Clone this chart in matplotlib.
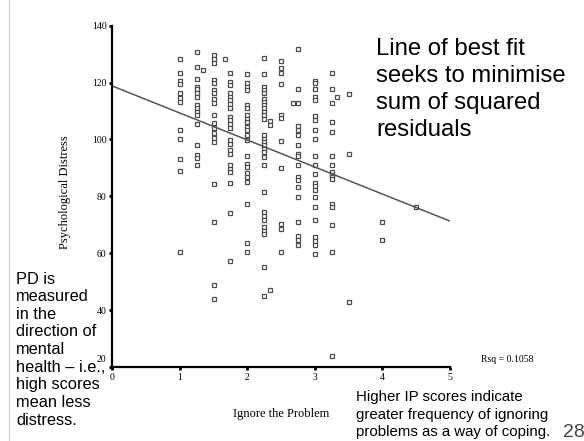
#!/usr/bin/env python3

import matplotlib
matplotlib.use("Agg")
import matplotlib.pyplot as plt
import matplotlib.transforms as mtransforms
from matplotlib import rcParams
import numpy as np

rcParams['font.family'] = 'serif'
rcParams['font.serif'] = ['Liberation Serif']

# Ignore the Problem (IP) score levels, and the Psychological Distress values
ip_levels = [1.0, 1.25, 1.34, 1.5, 1.67, 1.75, 2.0, 2.25, 2.33, 2.5, 2.67, 2.75, 3.0, 3.25, 3.33, 3.5, 4.0, 4.5]
pd_at_1_00 = [128.3, 123.2, 120.5, 119.6, 116.3, 114.7, 113.2, 103.5, 100.2, 93.0, 88.8, 60.3]
pd_at_1_25 = [130.6, 125.4, 121.1, 118.5, 117.6, 116.2, 115.0, 112.0, 110.9, 109.7, 108.5, 105.5,
              97.9, 94.4, 93.4, 90.9]
pd_at_1_34 = [124.3]
pd_at_1_50 = [129.8, 128.3, 126.8, 121.0, 119.8, 117.3, 116.2, 114.4, 112.8, 108.5, 105.7, 104.0,
              102.3, 100.6, 99.1, 84.5, 71.0, 49.0, 44.0]
pd_at_1_67 = [128.3]
pd_at_1_75 = [123.2, 120.3, 119.1, 116.2, 115.0, 113.8, 112.6, 110.9, 107.9, 106.7, 105.6, 104.2,
              99.7, 98.5, 96.2, 95.0, 90.9, 89.7, 88.5, 84.6, 74.0, 57.2]
pd_at_2_00 = [122.9, 119.7, 118.5, 117.3, 112.0, 110.9, 108.5, 107.3, 106.2, 104.4, 103.2, 101.5,
              99.9, 94.2, 91.2, 90.3, 88.3, 86.8, 85.0, 77.4, 63.5, 60.3]
pd_at_2_25 = [128.5, 122.9, 118.5, 117.3, 116.4, 114.4, 113.2, 112.0, 110.9, 109.7, 108.5, 107.3,
              101.5, 100.3, 99.1, 97.9, 96.7, 95.6, 94.0, 90.9, 81.5, 74.4, 73.0, 71.7, 69.1, 67.9,
              66.6, 55.0, 44.8]
pd_at_2_33 = [106.5, 105.0, 47.0]
pd_at_2_50 = [127.5, 125.0, 123.3, 119.4, 108.5, 107.7, 99.6, 90.0, 70.4, 68.5, 60.3]
pd_at_2_67 = [112.8]
pd_at_2_75 = [131.7, 117.9, 112.8, 104.6, 103.5, 101.5, 97.9, 95.0, 94.1, 90.9, 86.8, 85.6, 83.2,
              79.7, 70.9, 66.2, 64.6, 62.9]
pd_at_3_00 = [120.6, 119.7, 117.9, 115.0, 113.8, 108.2, 106.7, 103.5, 100.3, 94.2, 91.0, 87.7, 84.8,
              83.6, 82.4, 79.6, 76.2, 71.8, 65.7, 64.4, 62.9, 59.6]
pd_at_3_25 = [123.2, 117.9, 112.7, 106.2, 102.5, 94.2, 91.0, 88.5, 87.6, 86.7, 86.0, 77.4, 76.4,
              70.0, 60.3, 23.8]
pd_at_3_33 = [115.0]
pd_at_3_50 = [116.0, 94.8, 43.0]
pd_at_4_00 = [70.9, 64.7]
pd_at_4_50 = [76.2]
pd_columns = [pd_at_1_00, pd_at_1_25, pd_at_1_34, pd_at_1_50, pd_at_1_67, pd_at_1_75, pd_at_2_00,
              pd_at_2_25, pd_at_2_33, pd_at_2_50, pd_at_2_67, pd_at_2_75, pd_at_3_00, pd_at_3_25,
              pd_at_3_33, pd_at_3_50, pd_at_4_00, pd_at_4_50]

# fitted line as drawn on the slide
fit_intercept = 118.8
fit_slope = -9.5
rsq_label = "Rsq = 0.1058"

x_ticks = [0, 1, 2, 3, 4, 5]
y_ticks = [20, 40, 60, 80, 100, 120, 140]

W, H = 584, 441
sans = ['Liberation Sans', 'DejaVu Sans']
marker_color = '#4d4d4d'


def fx(px):
    return px / W


def fy(py):
    return 1 - py / H


fig = plt.figure(figsize=(W / 100, H / 100), dpi=100)
ax = fig.add_axes([fx(112.3), fy(367), fx(450) - fx(112.3), fy(25.7) - fy(367)])

ip_all = []
pd_all = []
for ith_level, ith_column in zip(ip_levels, pd_columns):
    ip_all += [ith_level] * len(ith_column)
    pd_all += ith_column

ax.plot(ip_all, pd_all, 's', ms=3.4, mew=0.9, mec=marker_color, mfc='white', clip_on=False)

fit_x = np.array([0, 5])
ax.plot(fit_x, fit_intercept + fit_slope * fit_x, '-', color='#555555', lw=1.1)

ax.set_xlim(0, 5)
ax.set_ylim(20, 140)
ax.set_xticks(x_ticks)
ax.set_yticks(y_ticks)
ax.tick_params(direction='out', length=2, width=2, labelsize=7, pad=2)
for side in ['top', 'right']:
    ax.spines[side].set_visible(False)
for side in ['left', 'bottom']:
    ax.spines[side].set_linewidth(1.6)

# the lowest y label sits a little above its tick on the slide
lowest = ax.get_yticklabels()[0]
lowest.set_transform(lowest.get_transform() + mtransforms.ScaledTranslation(0, 8 / 100, fig.dpi_scale_trans))

fig.text(fx(65), fy(192), "Psychological Distress", rotation=90, ha='center', va='center', fontsize=9)
fig.text(fx(281), fy(414), "Ignore the Problem", ha='center', va='center', fontsize=9)
fig.text(fx(481), fy(360), rsq_label, ha='left', va='center', fontsize=7)

fig.text(fx(376), fy(38), "Line of best fit\nseeks to minimise\nsum of squared\nresiduals",
         ha='left', va='top', fontsize=17.2, family=sans, linespacing=1.3)
fig.text(fx(16), fy(271.5), "PD is\nmeasured\nin the\ndirection of\nmental\nhealth \u2013 i.e.,\nhigh scores\nmean less\ndistress.",
         ha='left', va='top', fontsize=11.8, family=sans, linespacing=1.22)
fig.text(fx(356), fy(390.5), "Higher IP scores indicate\ngreater frequency of ignoring\nproblems as a way of coping.",
         ha='left', va='top', fontsize=10.8, family=sans, linespacing=1.29)
fig.text(fx(563), fy(437), "28", ha='left', va='baseline', fontsize=14, family=sans, color='#444444')

# faint slide border on the left
fig.add_artist(plt.Line2D([fx(9.3), fx(9.3)], [0, 1], color='#d9d9d9', lw=1))

fig.savefig("out.png", dpi=100)
